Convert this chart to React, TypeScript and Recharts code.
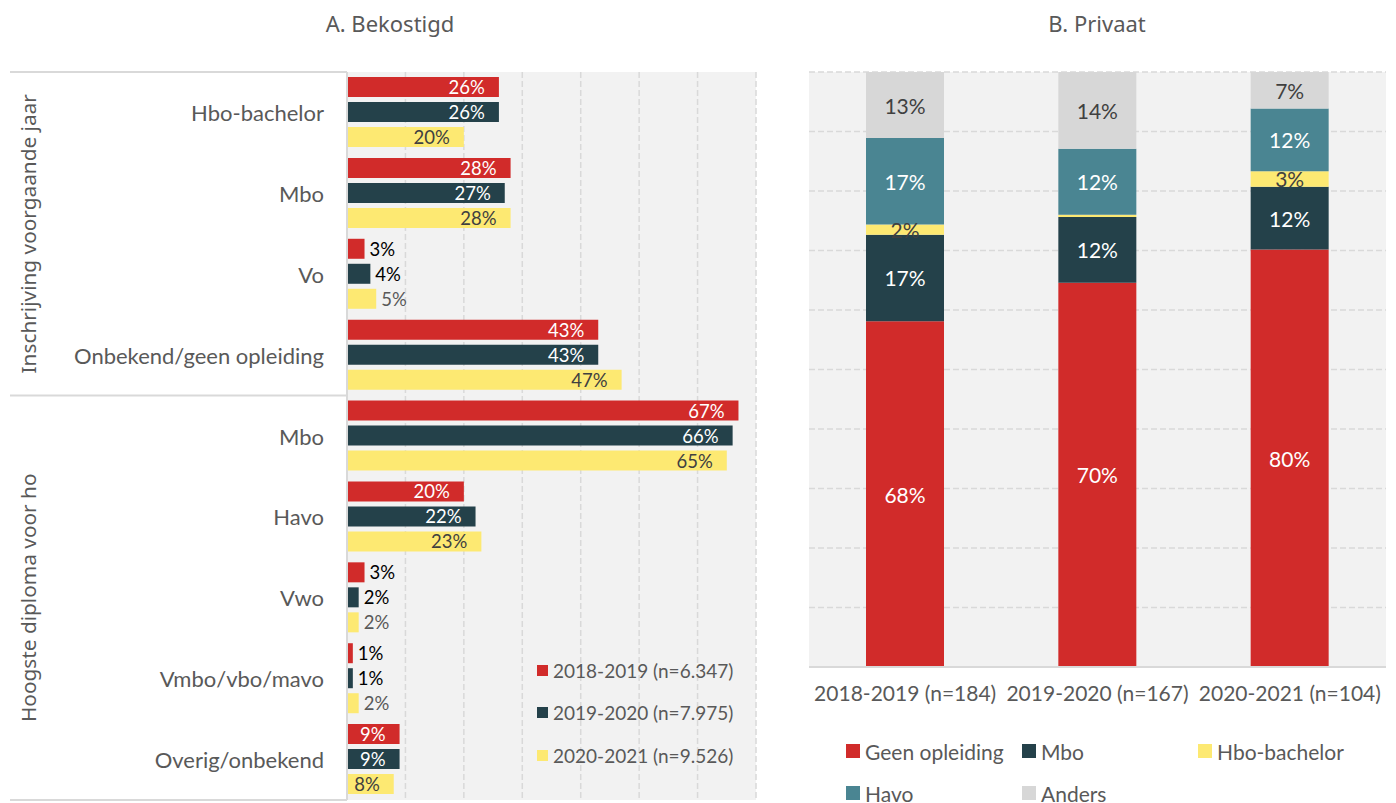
import React from 'react';
import { BarChart, Bar, XAxis, YAxis, CartesianGrid, LabelList } from 'recharts';

// Panel A: bekostigd, three cohorts per row
const rowsA = [
  'Hbo-bachelor',
  'Mbo',
  'Vo',
  'Onbekend/geen opleiding',
  'Mbo',
  'Havo',
  'Vwo',
  'Vmbo/vbo/mavo',
  'Overig/onbekend',
];
const groupsA = ['Inschrijving voorgaande jaar', 'Hoogste diploma voor ho'];
const groupSizesA = [4, 5];
const cohortsA = ['2018-2019 (n=6.347)', '2019-2020 (n=7.975)', '2020-2021 (n=9.526)'];
const y2018A = [26, 28, 3, 43, 67, 20, 3, 1, 9];
const y2019A = [26, 27, 4, 43, 66, 22, 2, 1, 9];
const y2020A = [20, 28, 5, 47, 65, 23, 2, 2, 8];
const ticksA = [0, 10, 20, 30, 40, 50, 60, 70];

// Panel B: privaat, 100% stacked
const cohortsB = ['2018-2019 (n=184)', '2019-2020 (n=167)', '2020-2021 (n=104)'];
const seriesB = ['Geen opleiding', 'Mbo', 'Hbo-bachelor', 'Havo', 'Anders'];
const geenB = [68, 70, 80];
const mboB = [17, 12, 12];
const hboB = [2, 0.4, 3];
const havoB = [17, 12, 12];
const andersB = [13, 14, 7];
const ticksB = [0, 0.1, 0.2, 0.3, 0.4, 0.5, 0.6, 0.7, 0.8, 0.9, 1];

const RED = '#D12B2A';
const DARK = '#24414A';
const YELLOW = '#FDE972';
const TEAL = '#4A8592';
const LIGHT = '#D7D7D7';
const PLOT_BG = '#F2F2F2';
const GRID = '#D9D9D9';
const TEXT = '#595959';
const FONT = 'Lato, "Open Sans", sans-serif';
const GROUP_FONT = '"Noto Sans", "DejaVu Sans", sans-serif';

const colorsA = [RED, DARK, YELLOW];
const colorsB = [RED, DARK, YELLOW, TEAL, LIGHT];

const dataA = rowsA.map((name, i) => ({ name, a: y2018A[i], b: y2019A[i], c: y2020A[i] }));
const dataB = cohortsB.map((name, i) => ({
  name,
  geen: geenB[i],
  mbo: mboB[i],
  hbo: hboB[i],
  havo: havoB[i],
  anders: andersB[i],
}));
const keysB = ['geen', 'mbo', 'hbo', 'havo', 'anders'];

// layout of panel A
const A_W = 775;
const A_H = 803;
const A_TOP = 72;
const A_BOTTOM = 3;
const A_LEFT = 10;
const A_RIGHT = 756;
const A_AXIS_W = 337;
const A_AXIS_X = A_LEFT + A_AXIS_W;
const BAND_A = (A_H - A_TOP - A_BOTTOM) / rowsA.length;

// layout of panel B
const B_W = 606;
const B_H = 803;
const B_TOP = 72;
const B_PLOT_BOTTOM = 667;

function RowTick(props: any) {
  const { y, payload } = props;
  const i = payload.index;
  const parts: React.ReactNode[] = [];
  let start = 0;
  groupSizesA.forEach((n, g) => {
    if (i === start) {
      parts.push(
        <line key={'top' + g} x1={A_LEFT} x2={A_AXIS_X} y1={y - BAND_A / 2} y2={y - BAND_A / 2} stroke={GRID} strokeWidth={2} />
      );
      const cy = y + ((n - 1) / 2) * BAND_A;
      parts.push(
        <text
          key={'grp' + g}
          x={28}
          y={cy}
          transform={`rotate(-90 28 ${cy})`}
          textAnchor="middle"
          dominantBaseline="central"
          fill={TEXT}
          fontSize={20.8}
          fontFamily={GROUP_FONT}
        >
          {groupsA[g]}
        </text>
      );
    }
    if (g === groupSizesA.length - 1 && i === start + n - 1) {
      parts.push(
        <line key="bottom" x1={A_LEFT} x2={A_AXIS_X} y1={y + BAND_A / 2} y2={y + BAND_A / 2} stroke={GRID} strokeWidth={2} />
      );
    }
    start += n;
  });
  return (
    <g>
      {parts}
      <text x={A_AXIS_X - 23} y={y} textAnchor="end" dominantBaseline="central" fill={TEXT} fontSize={22} fontFamily={FONT}>
        {payload.value}
      </text>
    </g>
  );
}

const labelA = (k: number) => (props: any) => {
  const { x, y, width, height, value } = props;
  if (value >= 8) {
    return (
      <text
        x={x + width - 14}
        y={y + height / 2}
        textAnchor="end"
        dominantBaseline="central"
        fill={k === 2 ? '#404040' : '#FFFFFF'}
        fontSize={18.5}
        fontFamily={FONT}
      >
        {value}%
      </text>
    );
  }
  return (
    <text
      x={x + width + 5}
      y={y + height / 2}
      textAnchor="start"
      dominantBaseline="central"
      fill={k === 2 ? '#595959' : '#000000'}
      fontSize={18.5}
      fontFamily={FONT}
    >
      {value}%
    </text>
  );
};

const labelB = (k: number) => (props: any) => {
  const { x, y, width, height, value } = props;
  if (value < 1) return null;
  const dark = k === 2 || k === 4;
  return (
    <text
      x={x + width / 2}
      y={y + height / 2}
      textAnchor="middle"
      dominantBaseline="central"
      fill={dark ? '#404040' : '#FFFFFF'}
      fontSize={21}
      fontFamily={FONT}
    >
      {value}%
    </text>
  );
};

// grid lines at the tick values, mapped into the plot area
const gridX = (p: any) => {
  const s = p?.xAxis?.scale;
  if (typeof s === 'function') return ticksA.map((t) => s(t));
  const left = p?.offset?.left ?? A_AXIS_X;
  const w = p?.offset?.width ?? A_RIGHT - A_AXIS_X;
  return ticksA.map((t) => left + (t / 70) * w);
};
const gridY = (p: any) => {
  const s = p?.yAxis?.scale;
  if (typeof s === 'function') return ticksB.map((t) => s(t));
  const top = p?.offset?.top ?? B_TOP;
  const h = p?.offset?.height ?? B_PLOT_BOTTOM - B_TOP;
  return ticksB.map((t) => top + h - t * h);
};

export default function App() {
  return (
    <div style={{ position: 'absolute', left: 0, top: 0, width: 1396, height: 803, background: '#fff', fontFamily: FONT }}>
      <div style={{ position: 'absolute', left: 0, width: 780, top: 8, textAlign: 'center', color: TEXT, fontSize: 22, fontFamily: GROUP_FONT }}>
        A. Bekostigd
      </div>
      <div style={{ position: 'absolute', left: 797, width: 600, top: 8, textAlign: 'center', color: TEXT, fontSize: 22, fontFamily: GROUP_FONT }}>
        B. Privaat
      </div>

      <div style={{ position: 'absolute', left: 0, top: 0 }}>
        <BarChart
          width={A_W}
          height={A_H}
          data={dataA}
          layout="vertical"
          margin={{ top: A_TOP, right: A_W - A_RIGHT, bottom: A_BOTTOM, left: A_LEFT }}
          barSize={20}
          barGap={5}
        >
          <CartesianGrid
            horizontal={false}
            fill={PLOT_BG}
            stroke={GRID}
            strokeDasharray="6 3"
            strokeWidth={1.5}
            verticalCoordinatesGenerator={gridX}
          />
          <XAxis type="number" domain={[0, 70]} ticks={ticksA} height={0} tick={false} axisLine={false} tickLine={false} />
          <YAxis
            type="category"
            dataKey="name"
            width={A_AXIS_W}
            interval={0}
            tickLine={false}
            axisLine={{ stroke: GRID, strokeWidth: 2 }}
            tick={(p: any) => <RowTick {...p} />}
          />
          {['a', 'b', 'c'].map((key, k) => (
            <Bar key={key} dataKey={key} fill={colorsA[k]} isAnimationActive={false}>
              <LabelList dataKey={key} content={labelA(k)} />
            </Bar>
          ))}
        </BarChart>
      </div>

      {cohortsA.map((c, k) => (
        <div
          key={c}
          style={{ position: 'absolute', left: 537, top: 659 + k * 42.5, height: 22, display: 'flex', alignItems: 'center', color: TEXT, fontSize: 19, whiteSpace: 'nowrap' }}
        >
          <span style={{ display: 'inline-block', width: 11, height: 11, background: colorsA[k], marginRight: 5 }} />
          {c}
        </div>
      ))}

      <div style={{ position: 'absolute', left: 790, top: 0 }}>
        <BarChart
          width={B_W}
          height={B_H}
          data={dataB}
          stackOffset="expand"
          margin={{ top: B_TOP, right: 10, bottom: B_H - B_PLOT_BOTTOM - 40, left: 19 }}
          barSize={78}
        >
          <CartesianGrid
            vertical={false}
            fill={PLOT_BG}
            stroke={GRID}
            strokeDasharray="6 3"
            strokeWidth={1.5}
            horizontalCoordinatesGenerator={gridY}
          />
          <XAxis
            dataKey="name"
            height={40}
            tickLine={false}
            tickMargin={13}
            axisLine={{ stroke: GRID, strokeWidth: 2 }}
            tick={{ fill: TEXT, fontSize: 21, fontFamily: FONT }}
            interval={0}
          />
          <YAxis type="number" domain={[0, 1]} ticks={ticksB} width={0} tick={false} axisLine={false} tickLine={false} />
          {keysB.map((key, k) => (
            <Bar key={key} dataKey={key} stackId="s" fill={colorsB[k]} isAnimationActive={false}>
              <LabelList dataKey={key} content={labelB(k)} />
            </Bar>
          ))}
        </BarChart>
      </div>

      {seriesB.map((s, k) => (
        <div
          key={s}
          style={{
            position: 'absolute',
            left: 846 + (k % 3) * 176,
            top: 738 + Math.floor(k / 3) * 42,
            height: 26,
            display: 'flex',
            alignItems: 'center',
            color: TEXT,
            fontSize: 21,
            whiteSpace: 'nowrap',
          }}
        >
          <span style={{ display: 'inline-block', width: 14, height: 14, background: colorsB[k], marginRight: 5 }} />
          {s}
        </div>
      ))}
    </div>
  );
}
